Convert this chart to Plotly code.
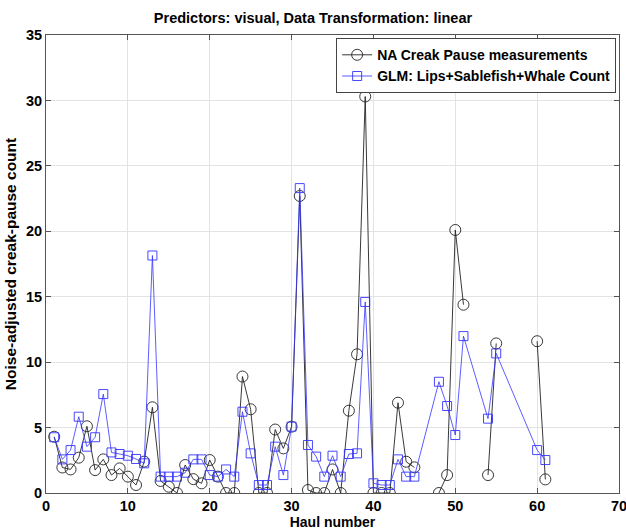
import plotly.graph_objects as go

haul = list(range(1, 62))
na_vals = [4.3, 1.95, 1.8, 2.7, 5.1, 1.75, 2.57, 1.37, 1.88, 1.25,
           0.61, 2.4, 6.55, 0.92, 0.48, 0.0, 2.14, 1.06, 0.74, 2.52,
           1.25, 0.0, 0.0, 8.9, 6.4, 0.0, 0.0, 4.85, 3.41, 5.07,
           22.7, 0.23, 0.0, 0.0, 1.8, 0.0, 6.29, 10.6, 30.3, 0.0,
           0.0, 0.0, 6.9, 2.39, 1.96, None, None, 0.0, 1.37, 20.1,
           14.39, None, None, 1.37, 11.43, None, None, None, None, 11.6,
           1.04]

glm_x = [1, 2, 3, 4, 5, 6, 7, 8, 9, 10, 11, 12, 13, 14, 15, 16, 17, 18, 19, 20,
         21, 22, 23, 24, 25, 26, 27, 28, 29, 30, 31, 32, 33, 34, 35, 36, 37, 38, 39, 40,
         41, 42, 43, 44, 45, 48, 49, 50, 51, 54, 55, 60, 61]
glm_vals = [4.26, 2.57, 3.28, 5.83, 3.54, 4.26, 7.56, 3.1, 2.98, 2.85,
            2.6, 2.27, 18.15, 1.25, 1.25, 1.25, 1.55, 2.57, 2.57, 1.37,
            1.25, 1.8, 1.25, 6.21, 3.03, 0.61, 0.61, 3.54, 1.37, 5.07,
            23.3, 3.67, 2.78, 1.25, 2.85, 1.25, 2.98, 3.03, 14.6, 0.74,
            0.61, 0.61, 2.57, 1.25, 1.25, 8.5, 6.65, 4.43, 11.99, 5.68,
            10.67, 3.28, 2.52]

x_ticks = [0, 10, 20, 30, 40, 50, 60, 70]
y_ticks = [0, 5, 10, 15, 20, 25, 30, 35]

font_family = "Liberation Sans, Arial, Helvetica, sans-serif"

fig = go.Figure()
fig.add_trace(go.Scatter(
    x=haul, y=na_vals, mode="lines+markers", name="NA Creak Pause measurements",
    connectgaps=False,
    line=dict(color="#222222", width=0.9),
    marker=dict(symbol="circle-open", size=11, color="#222222", line=dict(width=0.9)),
))
fig.add_trace(go.Scatter(
    x=glm_x, y=glm_vals, mode="lines+markers", name="GLM: Lips+Sablefish+Whale Count",
    line=dict(color="#3333ff", width=0.8),
    marker=dict(symbol="square-open", size=9, color="#3333ff", line=dict(width=0.9)),
))

axis_common = dict(
    showline=True, linecolor="#555555", linewidth=1, mirror="ticks",
    ticks="inside", ticklen=5, tickcolor="#555555",
    showgrid=True, gridcolor="#e3e3e3", gridwidth=1, zeroline=False,
    automargin=False, ticklabeloverflow="allow",
    tickfont=dict(family=font_family, size=14.5, color="black", weight="bold"),
)

fig.update_layout(
    width=626, height=530,
    paper_bgcolor="white", plot_bgcolor="white",
    margin=dict(l=46, r=7, t=35, b=37),
    title=dict(text="Predictors: visual, Data Transformation: linear",
               x=0.5, xanchor="center", y=0.966, yanchor="middle",
               font=dict(family=font_family, size=14.5, color="black", weight="bold")),
    xaxis=dict(range=[0, 70], tickvals=x_ticks,
               title=dict(text="Haul number", standoff=0,
                          font=dict(family=font_family, size=14, color="black", weight="bold")),
               **axis_common),
    yaxis=dict(range=[0, 35], tickvals=y_ticks,
               title=dict(text="Noise-adjusted creak-pause count", standoff=5,
                          font=dict(family=font_family, size=15.5, color="black", weight="bold")),
               **axis_common),
    legend=dict(x=0.995, y=0.993, xanchor="right", yanchor="top",
                bgcolor="white", bordercolor="#444444", borderwidth=1,
                font=dict(family=font_family, size=14, color="black", weight="bold"),
                tracegroupgap=0, itemwidth=30),
    showlegend=True,
)

fig.write_html("out.html", config={"displayModeBar": False},
               post_script="document.body.style.margin='0';document.body.style.overflow='hidden';")
